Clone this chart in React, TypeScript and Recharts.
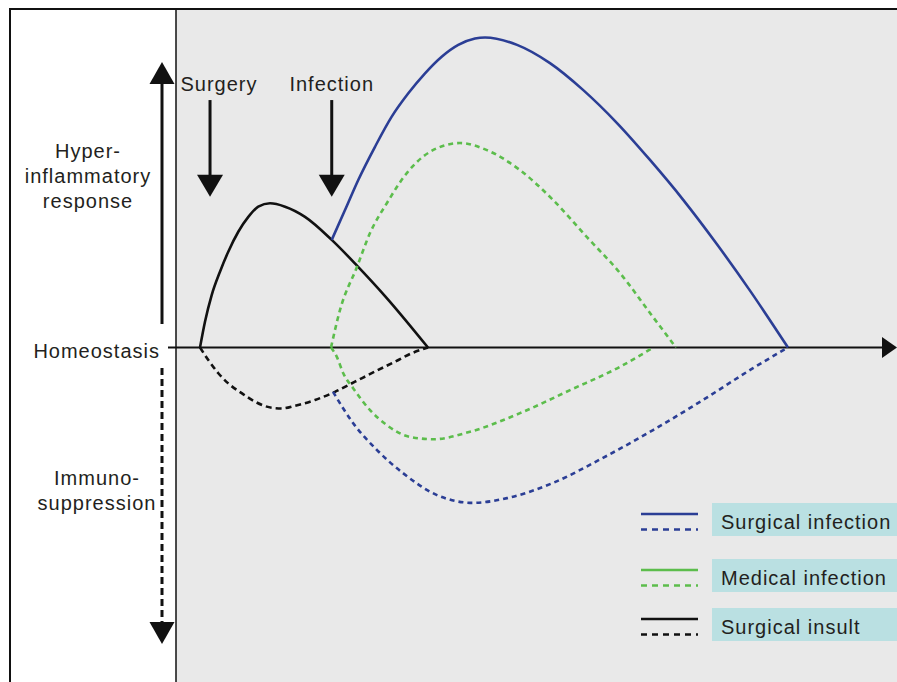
import React from "react";
import {
  ComposedChart,
  Line,
  XAxis,
  YAxis,
  CartesianGrid,
  ReferenceLine,
  Legend,
  Customized,
} from "recharts";

// x = time (0-100 across the grey panel), y = immune response (homeostasis = 0)
const insultUpT = [3.33, 4.02, 4.95, 6.1, 7.25, 8.64, 10.03, 11.41, 13.04, 15.12, 17.89, 21.6, 25.1, 28.99, 34.95];
const insultUpV = [0, 0.76, 1.55, 2.24, 2.83, 3.42, 3.86, 4.16, 4.26, 4.16, 3.86, 3.18, 2.42, 1.52, 0];

const insultDownT = [3.33, 4.48, 5.87, 7.25, 9.11, 10.96, 13.27, 14.66, 16.5, 19.28, 22.05, 24.83, 27.6, 30.37, 32.69, 34.95];
const insultDownV = [0, -0.37, -0.76, -1.06, -1.35, -1.6, -1.78, -1.8, -1.72, -1.55, -1.31, -1.01, -0.71, -0.42, -0.17, 0];

const surgUpT = [21.6, 23.44, 25.28, 27.6, 29.92, 32.22, 34.54, 36.85, 39.15, 41.47, 42.86, 47.3, 51.87, 56.45, 61.17, 65.74, 70.32, 75.03, 79.61, 84.88];
const surgUpV = [3.18, 4.06, 4.95, 5.93, 6.82, 7.51, 8.1, 8.59, 8.94, 9.13, 9.16, 8.94, 8.4, 7.61, 6.63, 5.54, 4.37, 3.05, 1.68, 0];

const surgDownT = [21.78, 24.55, 27.88, 31.48, 36.2, 41.19, 45.91, 52.29, 59.22, 66.16, 73.09, 80.03, 84.88];
const surgDownV = [-1.31, -2.23, -3.03, -3.71, -4.36, -4.59, -4.45, -4.0, -3.26, -2.44, -1.55, -0.61, 0];

const medUpT = [21.5, 22.75, 25.1, 26.91, 29.26, 32.04, 35.23, 39.39, 43.13, 47.71, 52.29, 57.0, 61.58, 66.16, 69.35];
const medUpV = [0, 1.11, 2.38, 3.38, 4.27, 5.16, 5.78, 6.04, 5.83, 5.24, 4.36, 3.26, 2.2, 0.9, 0];

const medDownT = [21.5, 22.29, 23.2, 24.59, 26.91, 29.22, 32.45, 35.69, 40.78, 47.71, 54.65, 61.58, 66.2];
const medDownV = [0, -0.27, -0.76, -1.21, -1.85, -2.29, -2.64, -2.71, -2.49, -1.94, -1.26, -0.57, 0];

const events = ["Surgery", "Infection"];
const eventT = [4.72, 21.6];

const yTicks = [5.07, 0, -4.22];
const yLabels = [["Hyper-", "inflammatory", "response"], ["Homeostasis"], ["Immuno-", "suppression"]];

const legendLabels = ["Surgical infection", "Medical infection", "Surgical insult"];

const BLUE = "#2b3e95";
const GREEN = "#5cbd4c";
const BLACK = "#111";
const FONT = "'Liberation Sans', Arial, sans-serif";
const TEXT = "#231f20";

const zip = (t: number[], v: number[]) => t.map((x, i) => ({ t: x, v: v[i] }));

const series = [
  { key: "insultUp", data: zip(insultUpT, insultUpV), color: BLACK, dash: undefined },
  { key: "insultDown", data: zip(insultDownT, insultDownV), color: BLACK, dash: "6 4" },
  { key: "medUp", data: zip(medUpT, medUpV), color: GREEN, dash: "5 4" },
  { key: "medDown", data: zip(medDownT, medDownV), color: GREEN, dash: "5 4" },
  { key: "surgDown", data: zip(surgDownT, surgDownV), color: BLUE, dash: "5 4" },
  { key: "surgUp", data: zip(surgUpT, surgUpV), color: BLUE, dash: undefined },
];

const legendColors = [BLUE, GREEN, BLACK];
const legendRowTop = [0, 56, 105];
const labelCenterX = [88, 160, 97];
const eventLabelShift = [9, 0];

const textStyle = { fontFamily: FONT, fontSize: 20, letterSpacing: 1, fill: TEXT };

const SideTick = (props: any) => {
  const { y, payload } = props;
  const i = yTicks.indexOf(payload.value);
  if (i < 0) return null;
  const lines = yLabels[i];
  if (lines.length === 1) {
    return (
      <text x={labelCenterX[i]} y={y + 10} textAnchor="end" style={textStyle}>
        {lines[0]}
      </text>
    );
  }
  return (
    <text x={labelCenterX[i]} textAnchor="middle" style={textStyle}>
      {lines.map((l, k) => (
        <tspan key={k} x={labelCenterX[i]} y={y + 7 + (k - (lines.length - 1) / 2) * 25}>
          {l}
        </tspan>
      ))}
    </text>
  );
};

const HomeostasisAxis = (props: any) => {
  const { x1, x2, y1 } = props;
  return (
    <g>
      <line x1={x1 - 8} x2={x2 - 14} y1={y1} y2={y1} stroke={BLACK} strokeWidth={2} />
      <polygon points={`${x2 - 15},${y1 - 10.5} ${x2 - 15},${y1 + 10.5} ${x2},${y1}`} fill={BLACK} />
    </g>
  );
};

const EventArrow = (props: any) => {
  const { x1, y1, y2, label, shift } = props;
  return (
    <g>
      <text x={x1 + shift} y={y1 - 9} textAnchor="middle" style={textStyle}>
        {label}
      </text>
      <line x1={x1} x2={x1} y1={y1} y2={y2 - 20} stroke={BLACK} strokeWidth={3} />
      <polygon points={`${x1 - 13},${y2 - 22} ${x1 + 13},${y2 - 22} ${x1},${y2}`} fill={BLACK} />
    </g>
  );
};

// the two response-direction arrows beside the axis labels
const SideArrows = () => (
  <g>
    <line x1={162} x2={162} y1={324} y2={82} stroke={BLACK} strokeWidth={3} />
    <polygon points="149.5,84 174.5,84 162,62" fill={BLACK} />
    <line x1={162} x2={162} y1={368} y2={622} stroke={BLACK} strokeWidth={3} strokeDasharray="7 4" />
    <polygon points="149.5,622 174.5,622 162,644" fill={BLACK} />
  </g>
);

const LegendBox = () => (
  <svg width={260} height={140} style={{ display: "block", overflow: "visible" }}>
    {legendLabels.map((name, i) => {
      const top = legendRowTop[i];
      return (
        <g key={name}>
          <line x1={0} x2={57} y1={top + 11} y2={top + 11} stroke={legendColors[i]} strokeWidth={2.6} />
          <line
            x1={0}
            x2={57}
            y1={top + 26.5}
            y2={top + 26.5}
            stroke={legendColors[i]}
            strokeWidth={2.6}
            strokeDasharray="6 5"
          />
          <rect x={71} y={top} width={200} height={33} fill="#bae0e2" />
          <text x={80} y={top + 26} style={textStyle}>
            {name}
          </text>
        </g>
      );
    })}
  </svg>
);

export default function App() {
  return (
    <div
      style={{
        position: "fixed",
        left: 0,
        top: 0,
        width: 897,
        height: 682,
        overflow: "hidden",
        background: "#fff",
      }}
    >
      <ComposedChart width={897} height={686} margin={{ top: 9, right: 0, bottom: 0, left: 0 }}>
        <CartesianGrid horizontal={false} vertical={false} fill="#e9e9e9" stroke="none" />
        <XAxis type="number" dataKey="t" domain={[0, 100]} hide allowDataOverflow />
        <YAxis
          type="number"
          domain={[-10, 10]}
          width={176}
          ticks={yTicks}
          interval={0}
          tick={(p: any) => <SideTick {...p} />}
          tickLine={false}
          axisLine={{ stroke: BLACK, strokeWidth: 1.5 }}
        />
        <ReferenceLine y={0} shape={(p: any) => <HomeostasisAxis {...p} />} />
        {events.map((ev, i) => (
          <ReferenceLine
            key={ev}
            segment={[
              { x: eventT[i], y: 7.31 },
              { x: eventT[i], y: 4.45 },
            ]}
            shape={(p: any) => <EventArrow {...p} label={ev} shift={eventLabelShift[i]} />}
          />
        ))}
        {series.map((s) => (
          <Line
            key={s.key}
            data={s.data}
            dataKey="v"
            type="monotone"
            stroke={s.color}
            strokeWidth={2.6}
            strokeDasharray={s.dash}
            dot={false}
            activeDot={false}
            legendType="none"
            isAnimationActive={false}
          />
        ))}
        <Customized component={<SideArrows />} />
        <Legend
          layout="vertical"
          align="center"
          verticalAlign="middle"
          content={() => <LegendBox />}
          wrapperStyle={{ left: 641, top: 503, width: 260, height: 140 }}
        />
      </ComposedChart>
      <div
        style={{
          position: "absolute",
          left: 9,
          top: 8,
          right: 0,
          bottom: 0,
          borderLeft: "2px solid #111",
          borderTop: "2px solid #111",
          pointerEvents: "none",
        }}
      />
    </div>
  );
}
